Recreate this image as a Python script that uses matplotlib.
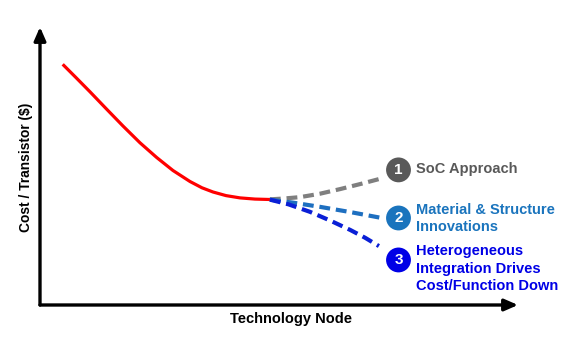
"""
cost per transistor vs technology node, three scenarios after the node flattens
"""

import matplotlib
matplotlib.use('Agg')
import matplotlib.pyplot as plt

plt.rc('font', family=['Liberation Sans', 'DejaVu Sans'])

# main trend (arbitrary units, axes run 0..10)
node_x = [0.475, 0.753, 1.046, 1.381, 1.736, 2.092, 2.441, 2.782, 3.138, 3.389,
          3.619, 3.891, 4.184, 4.498, 4.812]
cost_y = [8.658, 8.180, 7.669, 7.068, 6.439, 5.835, 5.306, 4.838, 4.442, 4.216,
          4.065, 3.935, 3.853, 3.810, 3.795]

# scenario branches
soc_x = [4.81, 5.10, 5.44, 5.85, 6.28, 6.72, 7.18]
soc_y = [3.80, 3.83, 3.88, 4.00, 4.17, 4.36, 4.57]
mat_x = [4.81, 5.30, 5.86, 6.50, 7.15]
mat_y = [3.79, 3.68, 3.53, 3.34, 3.13]
het_x = [4.81, 5.20, 5.65, 6.08, 6.49, 6.80, 7.09]
het_y = [3.79, 3.62, 3.35, 3.03, 2.70, 2.42, 2.12]

numbers = ['1', '2', '3']
num_x = [7.50, 7.50, 7.50]
num_y = [4.86, 3.13, 1.62]
labels = ['SoC Approach',
          'Material & Structure\nInnovations',
          'Heterogeneous\nIntegration Drives\nCost/Function Down']
label_y = [4.88, 3.11, 1.31]
colors = ['#595959', '#1a74bd', '#0000e6']
line_colors = ['#7f7f7f', '#1e6fc0', '#0a1fd6']

fig_w, fig_h = 566, 337
fig = plt.figure(figsize=(fig_w / 100, fig_h / 100), dpi=100)
ax = fig.add_axes([40 / fig_w, 32 / fig_h, 478 / fig_w, 278 / fig_h])
ax.set_xlim(0, 10)
ax.set_ylim(0, 10)
ax.axis('off')

# axes arrows
arrow = dict(arrowstyle='-|>,head_length=0.8,head_width=0.35', lw=2.4, color='black',
             shrinkA=0, shrinkB=0)
ax.annotate('', xy=(0, 1), xytext=(0, 0), xycoords='axes fraction', arrowprops=arrow)
ax.annotate('', xy=(1, 0), xytext=(0, 0), xycoords='axes fraction', arrowprops=arrow)

ax.plot(node_x, cost_y, color='#ff0000', lw=2.3, solid_capstyle='butt',
        solid_joinstyle='round')
ax.plot(soc_x, soc_y, color=line_colors[0], lw=3, dashes=(2.6, 1.4))
ax.plot(mat_x, mat_y, color=line_colors[1], lw=3, dashes=(2.6, 1.4))
ax.plot(het_x, het_y, color=line_colors[2], lw=3, dashes=(2.6, 1.4))

for n, x, y, c, lab, ly in zip(numbers, num_x, num_y, colors, labels, label_y):
    ax.scatter([x], [y], s=320, color=c, zorder=3, edgecolors='none')
    ax.text(x, y, n, color='white', fontsize=11, fontweight='bold',
            ha='center', va='center', zorder=4)
    ax.text(7.87, ly, lab, color=c, fontsize=10.5, fontweight='bold',
            ha='left', va='center', linespacing=1.32)

fig.text(26 / fig_w, 1 - 167 / fig_h, 'Cost / Transistor ($)', rotation=90,
         fontsize=9.9, fontweight='bold', ha='center', va='center')
fig.text(291 / fig_w, 1 - 319 / fig_h, 'Technology Node',
         fontsize=10.5, fontweight='bold', ha='center', va='center')

plt.savefig('out.png', dpi=100)
